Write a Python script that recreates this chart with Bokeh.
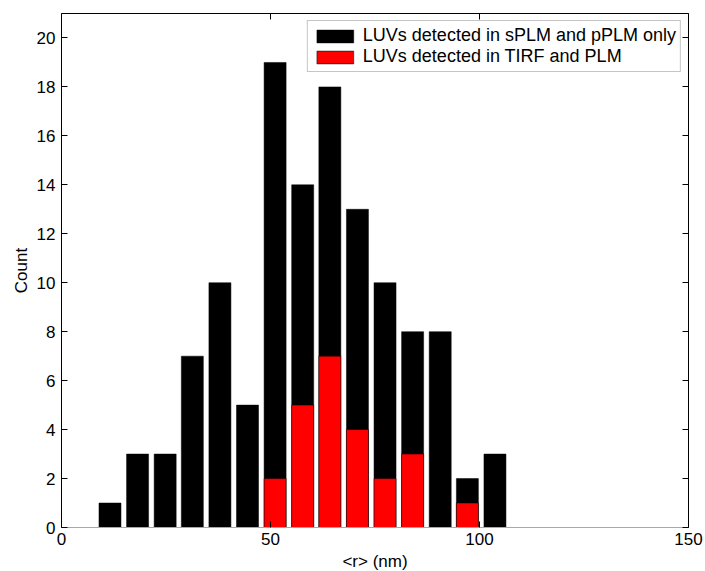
from bokeh.plotting import figure
from bokeh.models import LinearAxis, FixedTicker, Range1d, Legend, LegendItem, ColumnDataSource
from bokeh.embed import file_html
from bokeh.resources import INLINE

# ---- data ----
bin_centers = [11.6, 18.2, 24.8, 31.3, 37.9, 44.5, 51.1, 57.7, 64.2, 70.8, 77.4, 84.0, 90.6, 97.1, 103.7]
counts_splm_pplm = [1, 3, 3, 7, 10, 5, 19, 14, 18, 13, 10, 8, 8, 2, 3]
counts_tirf_plm = [0, 0, 0, 0, 0, 0, 2, 5, 7, 4, 2, 3, 0, 1, 0]
bin_width = 6.58
series_labels = ["LUVs detected in sPLM and pPLM only", "LUVs detected in TIRF and PLM"]
x_ticks = [0, 50, 100, 150]
y_ticks = [0, 2, 4, 6, 8, 10, 12, 14, 16, 18, 20]
x_label = "<r> (nm)"
y_label = "Count"

FONT = "Liberation Sans"
FS = "17px"

p = figure(frame_width=627, frame_height=514,
           min_border_left=61, min_border_right=17, min_border_top=13, min_border_bottom=44,
           x_range=Range1d(0, 150), y_range=Range1d(0, 21),
           x_axis_type=None, y_axis_type=None,
           output_backend="svg", toolbar_location=None,
           background_fill_color="white", border_fill_color="white")
p.outline_line_color = None
p.xgrid.visible = False
p.ygrid.visible = False

src_all = ColumnDataSource(dict(x=bin_centers, top=counts_splm_pplm))
tx = [c for c, v in zip(bin_centers, counts_tirf_plm) if v > 0]
tv = [v for v in counts_tirf_plm if v > 0]
src_tirf = ColumnDataSource(dict(x=tx, top=tv))

bar_w = bin_width * 0.8
r1 = p.vbar(x="x", top="top", bottom=0, width=bar_w, source=src_all,
            fill_color="black", line_color="black", line_width=0.5)
r2 = p.vbar(x="x", top="top", bottom=0, width=bar_w, source=src_tirf,
            fill_color="#ff0000", line_color="black", line_width=0.5)


def style_axis(ax, ticks, show_labels=True, line_color="black"):
    ax.major_tick_in = 6
    ax.major_tick_out = 0
    ax.minor_tick_in = 0
    ax.minor_tick_out = 0
    ax.axis_line_color = line_color
    ax.major_tick_line_color = "black"
    ax.major_label_text_font = FONT
    ax.axis_label_text_font = FONT
    ax.axis_label_text_font_style = "normal"
    ax.axis_label_text_font_size = FS
    ax.major_label_text_color = "black"
    ax.axis_label_text_color = "black"
    ax.major_label_text_font_size = FS
    if not show_labels:
        ax.major_label_overrides = {t: "" for t in ticks}
        ax.major_label_standoff = 0


xb = LinearAxis(ticker=FixedTicker(ticks=x_ticks), axis_label=x_label)
style_axis(xb, x_ticks, True, line_color="#a8a8a8")
xb.major_label_standoff = 5
xb.axis_label_standoff = 4
p.add_layout(xb, "below")

yl = LinearAxis(ticker=FixedTicker(ticks=y_ticks), axis_label=y_label)
style_axis(yl, y_ticks, True)
yl.major_label_standoff = 6
yl.axis_label_standoff = 3
p.add_layout(yl, "left")

xt = LinearAxis(ticker=FixedTicker(ticks=x_ticks))
style_axis(xt, x_ticks, False)
p.add_layout(xt, "above")

yr = LinearAxis(ticker=FixedTicker(ticks=y_ticks))
style_axis(yr, y_ticks, False)
p.add_layout(yr, "right")

legend = Legend(items=[LegendItem(label=series_labels[0], renderers=[r1]),
                       LegendItem(label=series_labels[1], renderers=[r2])],
                location="top_right")
legend.margin = 7
legend.padding = 4
legend.spacing = 0
legend.glyph_width = 46
legend.glyph_height = 16
legend.label_height = 16
legend.label_standoff = 5
legend.label_text_font = FONT
legend.label_text_font_size = "18px"
legend.label_text_color = "black"
legend.border_line_color = "#8c8c8c"
legend.border_line_width = 1
legend.background_fill_color = "white"
legend.background_fill_alpha = 1.0
p.add_layout(legend)

open("out.html", "w").write(file_html(p, INLINE))
